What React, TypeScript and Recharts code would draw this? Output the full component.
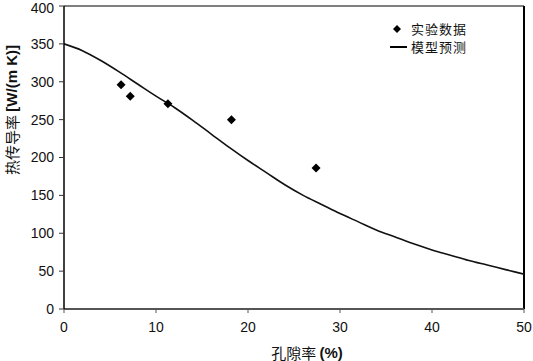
import {
    ComposedChart,
    XAxis,
    YAxis,
    Line,
    Scatter,
    ReferenceLine
} from 'recharts'

// 孔隙率 (%) 实验数据
const expPorosity = [6.2, 7.2, 11.3, 18.2, 27.4]
const expConductivity = [296, 281, 271, 250, 186]

// 模型预测曲线
const modelPorosity = [0, 2, 4, 6, 8, 10, 12, 14, 16, 18, 20, 22, 24, 26, 28, 30, 32, 34, 36, 38, 40, 42, 44, 46, 48, 50]
const modelConductivity = [350, 341, 328, 313, 297, 281, 266, 249, 231, 213, 196, 180, 164, 150, 138, 126, 115, 104, 95, 86, 78, 71, 64, 58, 52, 46]

const xTicks = [0, 10, 20, 30, 40, 50]
const yTicks = [0, 50, 100, 150, 200, 250, 300, 350, 400]

const expData = expPorosity.map((x, i) => ({ x, y: expConductivity[i] }))
const modelData = modelPorosity.map((x, i) => ({ x, y: modelConductivity[i] }))

const FONT = '"Liberation Sans", Arial, sans-serif'
const CJK = '"Noto Sans CJK SC", sans-serif'

const Diamond = (props: any) => {
    const { cx, cy } = props
    const r = 4.5
    return <polygon points={`${cx},${cy - r} ${cx + r},${cy} ${cx},${cy + r} ${cx - r},${cy}`} fill="#000" />
}

// 图例, 画在绘图区右上角
const LegendBox = () => (
    <div style={{ position: 'absolute', left: 387, top: 20, fontFamily: CJK, fontSize: 13, letterSpacing: 1, color: '#111', lineHeight: '18px' }}>
        <div style={{ display: 'flex', alignItems: 'center', height: 18 }}>
            <svg width={20} height={18}>
                <polygon points="10,5 14,9 10,13 6,9" fill="#000" />
            </svg>
            <span style={{ marginLeft: 4 }}>实验数据</span>
        </div>
        <div style={{ display: 'flex', alignItems: 'center', height: 18 }}>
            <svg width={20} height={18}>
                <line x1={3} y1={9} x2={20} y2={9} stroke="#000" strokeWidth={2} />
            </svg>
            <span style={{ marginLeft: 4 }}>模型预测</span>
        </div>
    </div>
)

const YLabel = () => (
    <text x={11} y={110} transform="rotate(-90 11 110)" textAnchor="middle" dominantBaseline="central" fontSize={15} fill="#111">
        <tspan fontFamily={CJK}>热传导率 </tspan>
        <tspan fontFamily={FONT} fontWeight="bold">[W/(m K)]</tspan>
    </text>
)

const XLabel = () => (
    <text x={307} y={352} textAnchor="middle" dominantBaseline="central" fontSize={15} fill="#111">
        <tspan fontFamily={CJK}>孔隙率 </tspan>
        <tspan fontFamily={FONT} fontWeight="bold">(%)</tspan>
    </text>
)

const App = () => {
    return (
        <div style={{ position: 'absolute', left: 0, top: 0, width: 533, height: 361, background: '#fff' }}>
            <ComposedChart width={533} height={361} margin={{ top: 6, right: 9, left: 14, bottom: 0 }}>
                <XAxis
                    type="number"
                    dataKey="x"
                    domain={[0, 50]}
                    ticks={xTicks}
                    height={52}
                    tickSize={4}
                    tickMargin={9}
                    axisLine={{ stroke: '#555', strokeWidth: 2 }}
                    tickLine={{ stroke: '#555' }}
                    tick={{ fontFamily: FONT, fontSize: 14, fill: '#111' }}
                    allowDataOverflow
                />
                <YAxis
                    type="number"
                    dataKey="y"
                    domain={[0, 400]}
                    ticks={yTicks}
                    width={50}
                    tickSize={5}
                    tickMargin={5}
                    axisLine={{ stroke: '#000', strokeWidth: 1.5 }}
                    tickLine={{ stroke: '#333' }}
                    tick={{ fontFamily: FONT, fontSize: 14, fill: '#111' }}
                    allowDataOverflow
                />
                <ReferenceLine y={400} stroke="#000" strokeWidth={1.2} />
                <ReferenceLine x={50} stroke="#000" strokeWidth={2} />
                <Line
                    data={modelData}
                    dataKey="y"
                    type="monotone"
                    stroke="#111"
                    strokeWidth={1.6}
                    dot={false}
                    activeDot={false}
                    isAnimationActive={false}
                />
                <Scatter data={expData} dataKey="y" shape={<Diamond />} isAnimationActive={false} />
                <YLabel />
                <XLabel />
            </ComposedChart>
            <LegendBox />
        </div>
    )
}

export default App
